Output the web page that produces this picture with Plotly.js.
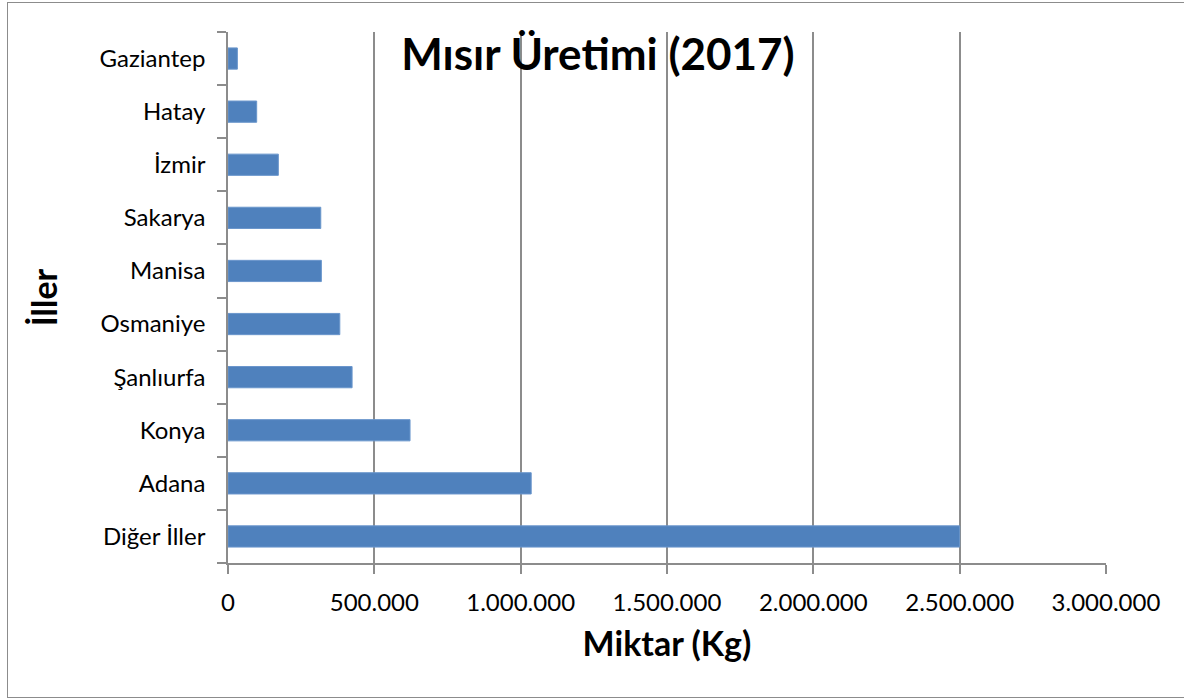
<!DOCTYPE html>
<html>
<head>
<meta charset="utf-8">
<script src="https://cdn.plot.ly/plotly-3.0.1.min.js"></script>
<style>
  html, body { margin: 0; padding: 0; background: #fff; }
  #wrap { position: relative; width: 1184px; height: 700px; overflow: hidden; }
  #chart { position: absolute; left: 0; top: 0; width: 1184px; height: 700px; }
  #frame { position: absolute; left: 7px; top: 2px; width: 1190px; height: 696px;
           border: 1.5px solid #8c8c8c; box-sizing: border-box; pointer-events: none; }
</style>
</head>
<body>
<div id="wrap">
  <div id="chart"></div>
  <div id="frame"></div>
</div>
<script>
const provinces = ["Diğer İller", "Adana", "Konya", "Şanlıurfa", "Osmaniye", "Manisa", "Sakarya", "İzmir", "Hatay", "Gaziantep"];
const amounts = [2500000, 1036000, 622000, 424000, 382000, 319000, 317000, 172000, 98000, 32000];
const xTicks = [0, 500000, 1000000, 1500000, 2000000, 2500000, 3000000];

const fontFam = "Lato, 'Open Sans', sans-serif";

Plotly.newPlot("chart", [{
  type: "bar",
  orientation: "h",
  y: provinces,
  x: amounts,
  marker: { color: "#4f81bd", line: { color: "#6a96cc", width: 1 } },
  hoverinfo: "x+y"
}], {
  width: 1184,
  height: 700,
  margin: { l: 228, r: 78, t: 32, b: 137 },
  paper_bgcolor: "rgba(0,0,0,0)",
  plot_bgcolor: "#ffffff",
  separators: ",.",
  bargap: 0.6,
  showlegend: false,
  title: {
    text: "<b>Mısır Üretimi (2017)</b>",
    font: { family: fontFam, size: 44, color: "#000" },
    x: 0.505, xanchor: "center",
    y: 0.922, yanchor: "middle"
  },
  xaxis: {
    range: [0, 3000000],
    tickvals: xTicks,
    tickformat: ",d",
    showgrid: true,
    gridcolor: "#8c8c8c",
    gridwidth: 1.5,
    zeroline: false,
    showline: true,
    linecolor: "#8c8c8c",
    linewidth: 1.5,
    ticks: "outside",
    ticklen: 9,
    tickcolor: "#8c8c8c",
    tickwidth: 1.5,
    ticklabelstandoff: 8,
    tickfont: { family: fontFam, size: 24, color: "#000" },
    title: { text: "<b>Miktar (Kg)</b>", font: { family: fontFam, size: 34, color: "#000" }, standoff: 18 },
    fixedrange: true
  },
  yaxis: {
    type: "category",
    showline: true,
    linecolor: "#8c8c8c",
    linewidth: 1.5,
    ticks: "outside",
    tickson: "boundaries",
    ticklen: 9,
    tickcolor: "#8c8c8c",
    tickwidth: 1.5,
    ticklabelstandoff: 16,
    showgrid: false,
    tickfont: { family: fontFam, size: 24, color: "#000" },
    title: { text: "<b>İller</b>", font: { family: fontFam, size: 34, color: "#000" }, standoff: 32 },
    fixedrange: true
  }
}, { displayModeBar: false, staticPlot: false });
</script>
</body>
</html>
